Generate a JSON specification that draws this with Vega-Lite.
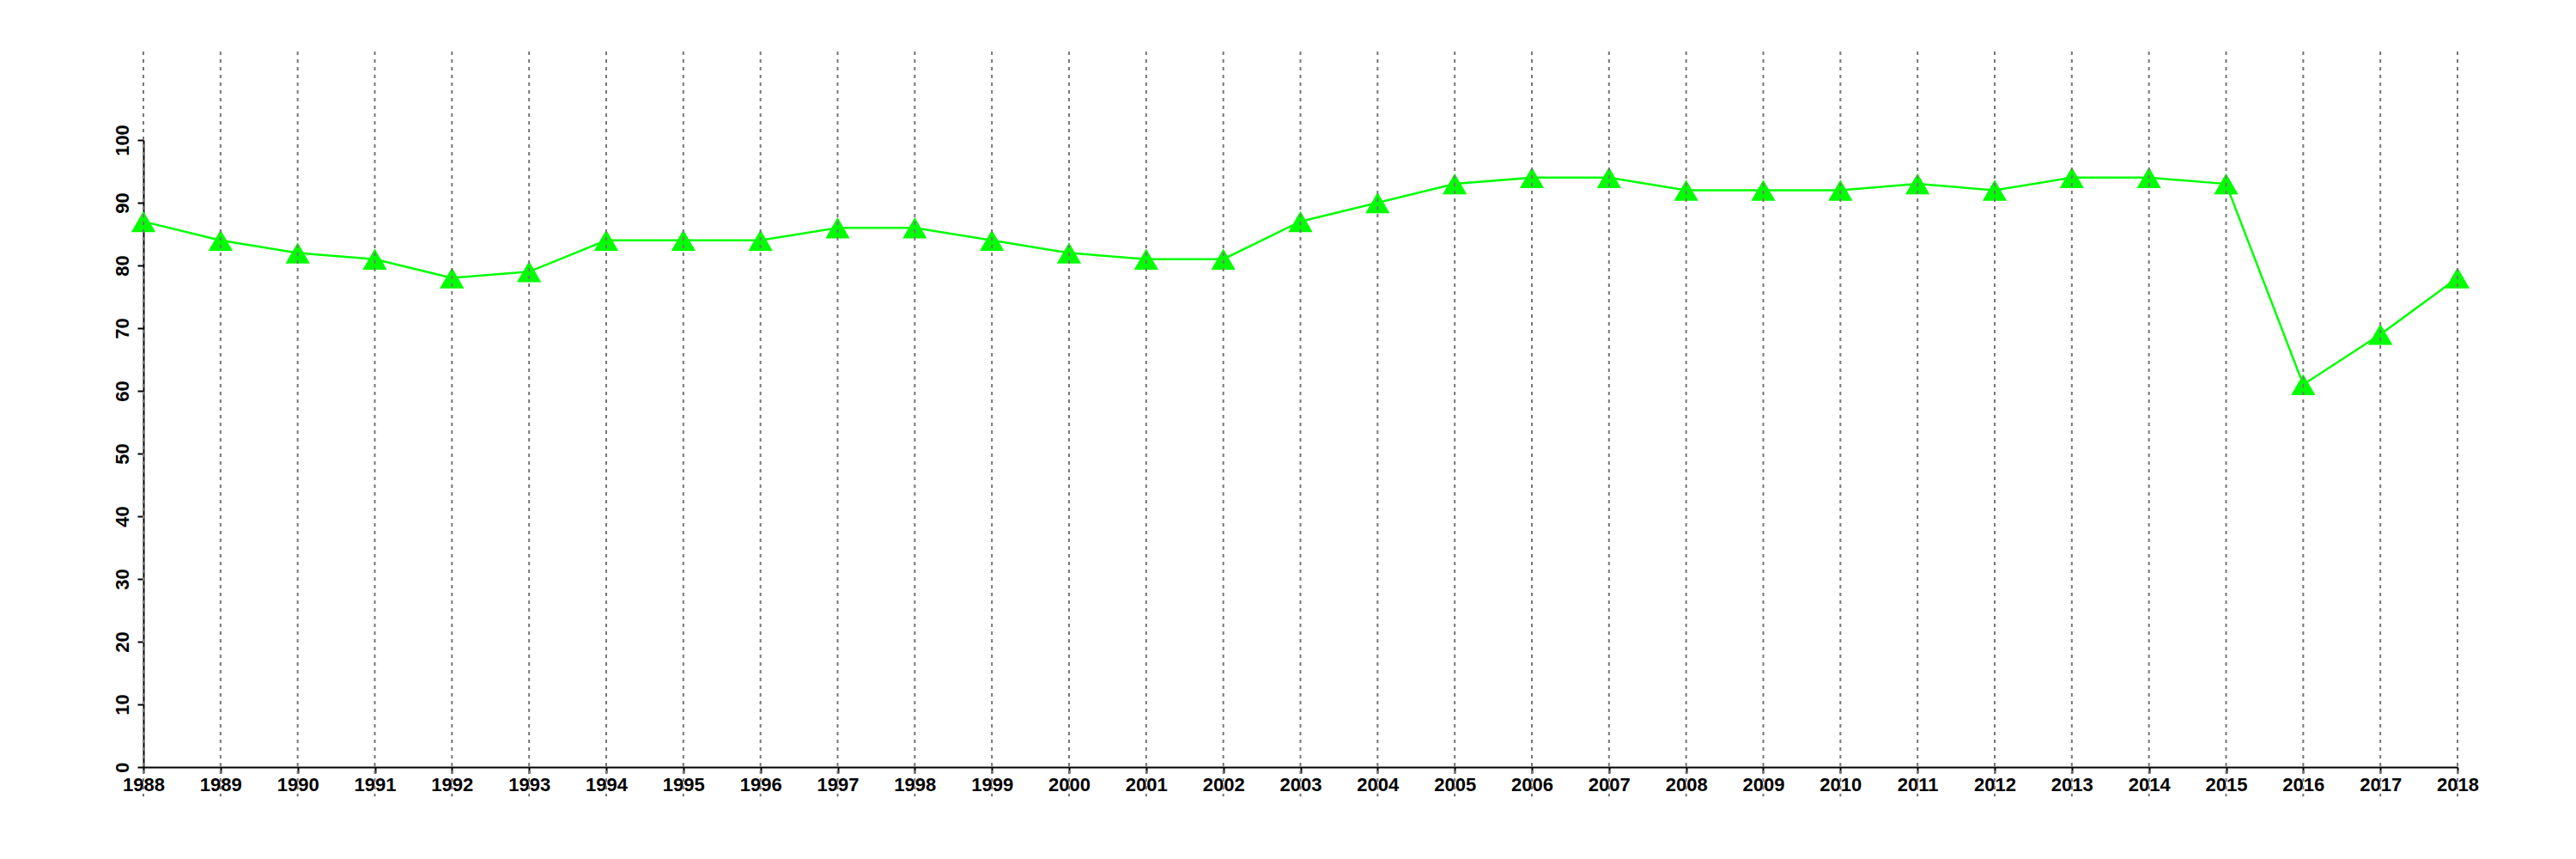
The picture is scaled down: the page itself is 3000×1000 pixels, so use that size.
{
  "$schema": "https://vega.github.io/schema/vega-lite/v6.json",
  "width": 2695,
  "height": 730,
  "autosize": "none",
  "padding": {"left": 167, "top": 163, "right": 138, "bottom": 107},
  "background": "white",
  "config": {"view": {"stroke": null}, "font": "Liberation Sans"},
  "data": {"values": [
    {"year": 1988, "value": 87}, {"year": 1989, "value": 84}, {"year": 1990, "value": 82},
    {"year": 1991, "value": 81}, {"year": 1992, "value": 78}, {"year": 1993, "value": 79},
    {"year": 1994, "value": 84}, {"year": 1995, "value": 84}, {"year": 1996, "value": 84},
    {"year": 1997, "value": 86}, {"year": 1998, "value": 86}, {"year": 1999, "value": 84},
    {"year": 2000, "value": 82}, {"year": 2001, "value": 81}, {"year": 2002, "value": 81},
    {"year": 2003, "value": 87}, {"year": 2004, "value": 90}, {"year": 2005, "value": 93},
    {"year": 2006, "value": 94}, {"year": 2007, "value": 94}, {"year": 2008, "value": 92},
    {"year": 2009, "value": 92}, {"year": 2010, "value": 92}, {"year": 2011, "value": 93},
    {"year": 2012, "value": 92}, {"year": 2013, "value": 94}, {"year": 2014, "value": 94},
    {"year": 2015, "value": 93}, {"year": 2016, "value": 61}, {"year": 2017, "value": 69},
    {"year": 2018, "value": 78}
  ]},
  "layer": [
    {
      "mark": {"type": "line", "color": "#00FF00", "strokeWidth": 2.5},
      "encoding": {
        "x": {"field": "year", "type": "quantitative",
          "scale": {"domain": [1988, 2018], "nice": false, "zero": false},
          "axis": {"title": null, "values": [1988,1989,1990,1991,1992,1993,1994,1995,1996,1997,1998,1999,2000,2001,2002,2003,2004,2005,2006,2007,2008,2009,2010,2011,2012,2013,2014,2015,2016,2017,2018],
            "format": "d", "grid": false, "domainColor": "black", "domainWidth": 2,
            "tickColor": "black", "tickWidth": 2, "tickSize": 7, "labelFontSize": 22, "labelFontWeight": "bold",
            "labelColor": "black", "labelPadding": 3, "labelFlush": false, "labelOverlap": false}},
        "y": {"field": "value", "type": "quantitative",
          "scale": {"domain": [0, 100], "nice": false},
          "axis": {"title": null, "values": [0,10,20,30,40,50,60,70,80,90,100], "grid": false,
            "domainColor": "black", "domainWidth": 2, "tickColor": "black", "tickWidth": 2, "tickSize": 7,
            "labelFontSize": 22, "labelFontWeight": "bold", "labelColor": "black", "labelAngle": 270,
            "labelPadding": 6, "labelFlush": false, "labelOverlap": false}}
      }
    },
    {
      "mark": {"type": "point", "shape": "triangle-up", "filled": true, "color": "#00FF00", "size": 800, "opacity": 1},
      "encoding": {
        "x": {"field": "year", "type": "quantitative"},
        "y": {"field": "value", "type": "quantitative"}
      }
    },
    {
      "mark": {"type": "rule", "color": "#777777", "strokeWidth": 2, "strokeDash": [4, 5]},
      "encoding": {
        "x": {"field": "year", "type": "quantitative"},
        "y": {"datum": 114.1},
        "y2": {"datum": -4.7}
      }
    }
  ]
}
